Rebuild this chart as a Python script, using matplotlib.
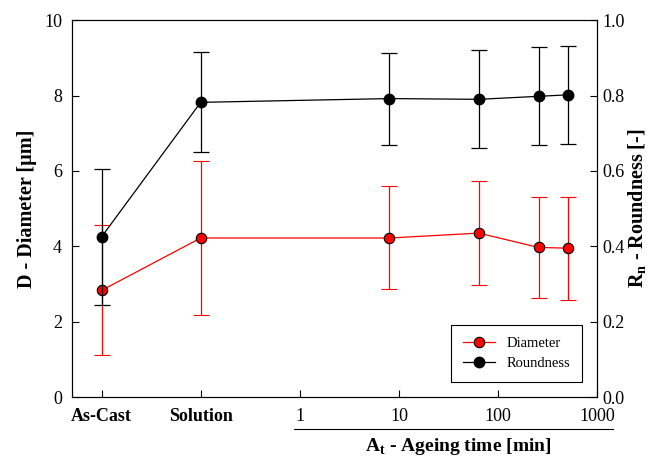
import numpy as np
import matplotlib
matplotlib.use("Agg")
import matplotlib.pyplot as plt
from matplotlib.lines import Line2D

plt.rcParams['font.family'] = ['Liberation Serif', 'DejaVu Serif']
plt.rcParams['mathtext.fontset'] = 'custom'
plt.rcParams['mathtext.rm'] = 'Liberation Serif'
plt.rcParams['mathtext.bf'] = 'Liberation Serif:bold'

# Dane
states = ["As-Cast", "Solution"]
ageing_min = [8, 64, 256, 512]

diam = [2.83, 4.22, 4.22, 4.35, 3.97, 3.95]
diam_lo = [1.12, 2.17, 2.87, 2.97, 2.62, 2.58]
diam_hi = [4.57, 6.27, 5.60, 5.72, 5.32, 5.32]

rnd = [0.425, 0.782, 0.792, 0.790, 0.798, 0.802]
rnd_lo = [0.245, 0.650, 0.670, 0.660, 0.668, 0.672]
rnd_hi = [0.605, 0.915, 0.912, 0.920, 0.929, 0.932]

log_ticks = [1, 10, 100, 1000]

# Pozycje na osi x: stany przed starzeniem po lewej, czas w skali log
x = np.concatenate([np.arange(-len(states), 0), np.log10(ageing_min)])

fig = plt.figure(figsize=(6.65, 4.59), dpi=100)
ax = fig.add_axes([0.108, 0.135, 0.79, 0.821])
ax2 = ax.twinx()

d = np.array(diam)
ax.errorbar(x, d, yerr=[d - np.array(diam_lo), np.array(diam_hi) - d],
            color="red", lw=0.9, elinewidth=0.9, capsize=5.5, capthick=0.9,
            marker="o", ms=7.5, mfc="red", mec="black", mew=0.8, zorder=3)

r = np.array(rnd)
ax2.errorbar(x, r, yerr=[r - np.array(rnd_lo), np.array(rnd_hi) - r],
             color="black", lw=0.9, elinewidth=0.9, capsize=5.5, capthick=0.9,
             marker="o", ms=7.5, mfc="black", mec="black", zorder=3)

ax.set_xlim(-2.3, 3.0)
ax.set_ylim(0, 10)
ax2.set_ylim(0, 1.0)
ax.set_yticks([0, 2, 4, 6, 8, 10])
ax2.set_yticks(np.arange(0, 1.01, 0.2))
ax2.set_yticklabels(["%.1f" % v for v in np.arange(0, 1.01, 0.2)])

ax.set_xticks(list(np.arange(-len(states), 0)) + list(np.log10(log_ticks)))
ax.set_xticklabels(states + [str(t) for t in log_ticks])

for a in (ax, ax2):
    a.tick_params(direction="in", length=5, width=0.8, labelsize=13)
    for s in a.spines.values():
        s.set_linewidth(0.8)
ax.tick_params(axis="x", pad=8)
ax.tick_params(axis="y", pad=7)
for lbl in ax.get_xticklabels()[:len(states)]:
    lbl.set_fontweight("bold")

ax.set_ylabel("D - Diameter [µm]", fontsize=14.5, fontweight="bold", labelpad=5)
ax2.set_ylabel(r"R$_\mathbf{n}$ - Roundness [-]", fontsize=14.5, fontweight="bold",
               labelpad=2)

# Podpis osi czasu starzenia z linią nad nim
x0 = (np.log10(log_ticks[0]) - 0.06 - ax.get_xlim()[0]) / 5.3
ax.add_line(Line2D([x0, 1.03], [-0.085, -0.085], transform=ax.transAxes,
                   color="black", lw=0.8, clip_on=False))
ax.text(0.735, -0.103, r"A$_\mathbf{t}$ - Ageing time [min]", transform=ax.transAxes,
        ha="center", va="top", fontsize=14, fontweight="bold")

handles = [Line2D([], [], color="red", lw=0.9, marker="o", ms=7.5, mfc="red", mec="black", mew=0.8),
           Line2D([], [], color="black", lw=0.9, marker="o", ms=7.5, mfc="black")]
leg = ax.legend(handles, ["Diameter", "Roundness"], loc="lower right",
                bbox_to_anchor=(0.985, 0.021), fontsize=10.5, fancybox=False,
                edgecolor="black", framealpha=1, handlelength=2.2, borderpad=0.8)
leg.get_frame().set_linewidth(0.8)

fig.savefig("out.png", dpi=100)
